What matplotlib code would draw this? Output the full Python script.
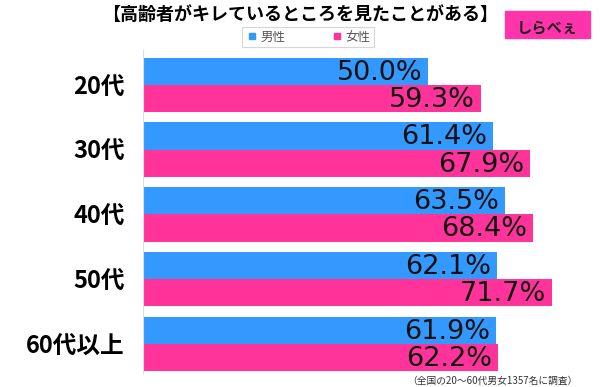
import matplotlib
matplotlib.use('Agg')
import matplotlib.pyplot as plt
from matplotlib.lines import Line2D
from matplotlib.patches import Rectangle
import numpy as np

plt.rcParams['font.family'] = ['Noto Sans CJK JP', 'DejaVu Sans']

# datos
categorias = ['20代', '30代', '40代', '50代', '60代以上']
hombres = [50.0, 61.4, 63.5, 62.1, 61.9]
mujeres = [59.3, 67.9, 68.4, 71.7, 62.2]
series = ['男性', '女性']
titulo = '【高齢者がキレているところを見たことがある】'
nota = '（全国の20～60代男女1357名に調査）'

azul = '#3399ff'
rosa = '#ff3399'

fig = plt.figure(figsize=(6, 3.87), dpi=100)
ax = fig.add_axes([143/600, 1 - 373/387, 437/600, 323/387])

y = np.arange(len(categorias))
h = 0.42
ax.barh(y - h/2, hombres, height=h, color=azul)
ax.barh(y + h/2, mujeres, height=h, color=rosa)

# etiquetas de valores dentro de la barra
for yi, v in zip(y - h/2, hombres):
    ax.text(v - 1.0, yi + 0.02, f'{v:.1f}%', ha='right', va='center',
            fontsize=19.5, family='DejaVu Sans', color='#111111')
for yi, v in zip(y + h/2, mujeres):
    ax.text(v - 1.0, yi + 0.02, f'{v:.1f}%', ha='right', va='center',
            fontsize=19.5, family='DejaVu Sans', color='#111111')

ax.set_xlim(0, 437/5.7)
ax.set_ylim(4.45, -0.54)
ax.set_yticks(y)
ax.set_yticklabels(categorias, fontsize=17, fontweight='bold')
ax.tick_params(axis='y', length=0, pad=13)
ax.set_xticks([])
for lado in ['top', 'right', 'bottom']:
    ax.spines[lado].set_visible(False)
ax.spines['left'].set_color('#dddddd')

# titulo y leyenda
fig.text(0.5, 1 - 14/387, titulo, ha='center', va='center',
         fontsize=13, fontweight='bold')
handles = [Line2D([], [], marker='s', ls='', color=c, markersize=5)
           for c in [azul, rosa]]
leg = fig.legend(handles, series, loc='center', ncol=2,
                 bbox_to_anchor=(308/600, 1 - 37/387), fontsize=9,
                 frameon=True, fancybox=False, edgecolor='#cccccc',
                 handletextpad=0.2, columnspacing=3.6, borderpad=0.25,
                 borderaxespad=0, handlelength=1.0)
leg.get_frame().set_linewidth(0.8)
for t in leg.get_texts():
    t.set_color('#555555')

# logo
fig.patches.append(Rectangle((505/600, 1 - 38/387), 85/600, 27/387,
                             transform=fig.transFigure, color='#ff33aa'))
fig.text(547/600, 1 - 27/387, 'しらべぇ', ha='center', va='center',
         fontsize=11, fontweight='bold', color='#222222')

fig.text(578/600, 1 - 381/387, nota, ha='right', va='center', fontsize=7,
         color='#333333')

fig.savefig('out.png', dpi=100)
